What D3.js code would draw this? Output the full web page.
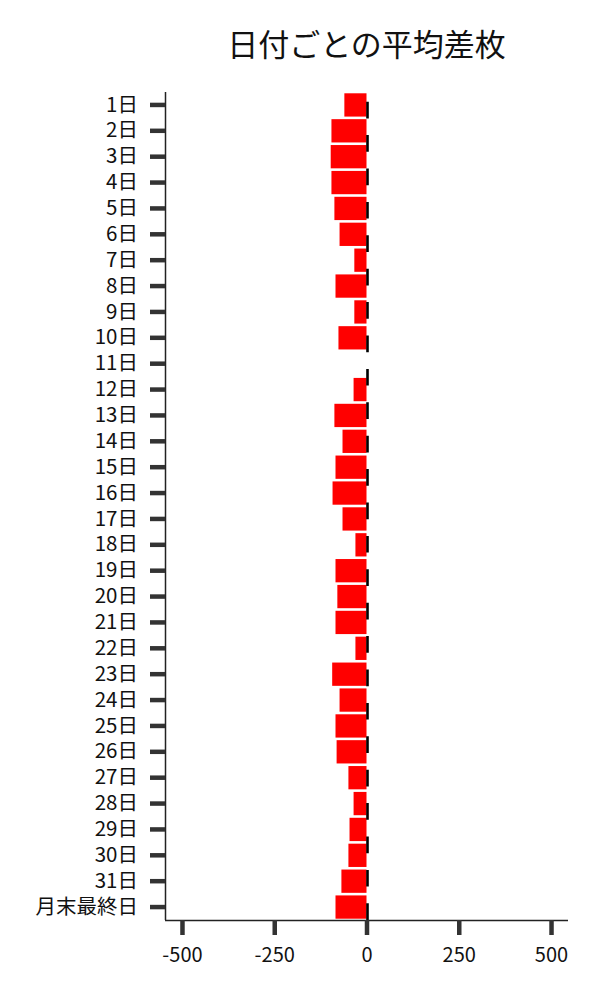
<!DOCTYPE html>
<html lang="ja">
<head>
    <meta charset="UTF-8">
    <title>日付ごとの平均差枚</title>
    <script src="https://d3js.org/d3.v7.min.js"></script>
    <style>
        body, html {
            margin: 0;
            padding: 0;
            background: #fff;
        }
        svg text {
            font-family: "Noto Sans CJK JP", "Noto Sans", sans-serif;
            fill: #111;
        }
    </style>
</head>
<body>
    <div id="chart"></div>

    <script>
        // Data
        const days = [
            "1日", "2日", "3日", "4日", "5日", "6日", "7日", "8日", "9日", "10日",
            "11日", "12日", "13日", "14日", "15日", "16日", "17日", "18日", "19日", "20日",
            "21日", "22日", "23日", "24日", "25日", "26日", "27日", "28日", "29日", "30日",
            "31日", "月末最終日"
        ];
        const avgDiff = [
            -60, -95, -97, -95, -87, -73, -33, -84, -33, -76,
            0, -35, -87, -65, -84, -92, -65, -30, -84, -79,
            -84, -30, -93, -73, -84, -81, -49, -35, -46, -49,
            -68, -84
        ];
        const xTicks = [-500, -250, 0, 250, 500];

        const width = 600;
        const height = 1000;
        const margin = {top: 92, right: 32, bottom: 80, left: 165};
        const innerW = width - margin.left - margin.right;
        const innerH = height - margin.top - margin.bottom;

        const svg = d3.select("#chart")
            .append("svg")
            .attr("width", width)
            .attr("height", height);

        // Title
        svg.append("text")
            .attr("x", margin.left + innerW / 2)
            .attr("y", 56)
            .attr("text-anchor", "middle")
            .attr("font-size", 31)
            .text("日付ごとの平均差枚");

        const g = svg.append("g")
            .attr("transform", `translate(${margin.left},${margin.top})`);

        const x = d3.scaleLinear()
            .domain([-546, 546])
            .range([0, innerW]);

        const y = d3.scaleBand()
            .domain(days)
            .range([0, innerH])
            .paddingInner(0.1)
            .paddingOuter(0.05);

        // Bars
        g.selectAll(".bar")
            .data(days)
            .enter()
            .append("rect")
            .attr("class", "bar")
            .attr("x", (d, i) => x(Math.min(0, avgDiff[i])))
            .attr("y", d => y(d))
            .attr("width", (d, i) => Math.abs(x(avgDiff[i]) - x(0)))
            .attr("height", y.bandwidth())
            .attr("fill", "#ff0000");

        // Dashed zero line, pattern starts at the bottom
        g.append("line")
            .attr("x1", x(0) + 1)
            .attr("x2", x(0) + 1)
            .attr("y1", innerH)
            .attr("y2", 0)
            .attr("stroke", "#000")
            .attr("stroke-width", 2.6)
            .attr("stroke-dasharray", "16.7 16.7");

        // X axis
        const xAxis = g.append("g")
            .attr("transform", `translate(0,${innerH})`)
            .call(d3.axisBottom(x).tickValues(xTicks).tickSize(15).tickPadding(13));
        xAxis.select(".domain").attr("stroke", "#222").attr("stroke-width", 1.5)
            .attr("d", `M0,0.5H${innerW}`);
        xAxis.selectAll(".tick line").attr("stroke", "#333").attr("stroke-width", 4.5);
        xAxis.selectAll(".tick text")
            .attr("font-size", 20)
            .attr("font-family", "'Noto Sans CJK JP', sans-serif")
            .attr("fill", "#111")
            .text(d => d < 0 ? "-" + Math.abs(d) : d);

        // Y axis
        const yAxis = g.append("g")
            .call(d3.axisLeft(y).tickSize(15).tickPadding(12).tickSizeOuter(0));
        yAxis.select(".domain").attr("stroke", "#222").attr("stroke-width", 1.5)
            .attr("d", `M0.5,0V${innerH}`);
        yAxis.selectAll(".tick line").attr("stroke", "#333").attr("stroke-width", 4.5);
        yAxis.selectAll(".tick text")
            .attr("font-size", 20.5)
            .attr("font-family", "'Noto Sans CJK JP', sans-serif")
            .attr("fill", "#111");
    </script>
</body>
</html>
